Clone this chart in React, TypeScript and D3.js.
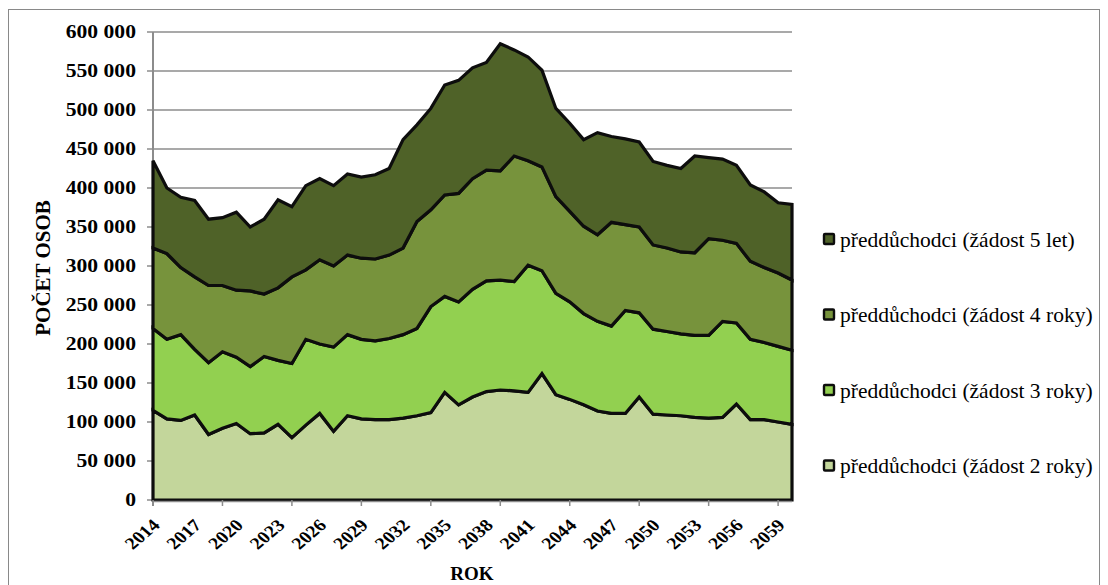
import * as d3 from "d3";
import React from "react";

// years 2014 - 2060
const years = d3.range(2014, 2061);

// values (persons)
const zadost2 = [
  115, 104, 102, 109, 84, 92, 98, 85, 86, 97, 80, 96, 111, 88, 108, 104, 103, 103, 105, 108, 112, 138, 122, 132,
  139, 141, 140, 138, 162, 135, 129, 122, 114, 111, 111, 132, 110, 109, 108, 106, 105, 106, 123, 103, 103, 100, 97,
].map((v) => v * 1000);
const zadost3 = [
  105, 102, 110, 84, 92, 98, 85, 86, 98, 82, 95, 110, 89, 108, 104, 102, 101, 104, 107, 112, 136, 123, 132, 138,
  142, 141, 140, 163, 132, 130, 125, 117, 115, 112, 132, 108, 109, 107, 105, 105, 106, 123, 104, 103, 99, 97, 95,
].map((v) => v * 1000);
const zadost4 = [
  103, 110, 86, 93, 99, 85, 86, 97, 80, 93, 111, 89, 108, 104, 102, 104, 105, 107, 111, 137, 124, 130, 139, 142,
  142, 140, 161, 134, 133, 124, 116, 112, 111, 133, 110, 110, 108, 107, 105, 106, 124, 104, 102, 100, 96, 94, 90,
].map((v) => v * 1000);
const zadost5 = [
  112, 84, 90, 98, 85, 87, 100, 82, 96, 113, 90, 108, 104, 103, 104, 104, 108, 111, 139, 124, 130, 141, 145, 142,
  138, 163, 136, 133, 124, 113, 113, 111, 131, 110, 110, 109, 107, 106, 107, 124, 104, 104, 100, 98, 97, 90, 97,
].map((v) => v * 1000);

const seriesNames = [
  "předdůchodci (žádost 2 roky)",
  "předdůchodci (žádost 3 roky)",
  "předdůchodci (žádost 4 roky)",
  "předdůchodci (žádost 5 let)",
];
const colors = ["#c3d69b", "#92d050", "#77933c", "#4f6228"];
const yTicks = d3.range(0, 600001, 50000);
const labelYears = years.filter((y) => (y - 2014) % 3 === 0);
const tickYears = years.filter((y) => (y - 2014) % 5 === 0);

const W = 1108;
const H = 585;
const left = 153;
const right = 792;
const top = 32;
const bottom = 500;
const font = "'Liberation Serif', 'Times New Roman', serif";
const stretch = 1.17; // axis labels in the picture are a little wider than plain Times

export default function App() {
  const rows = years.map((year, i) => ({
    year,
    s0: zadost2[i],
    s1: zadost3[i],
    s2: zadost4[i],
    s3: zadost5[i],
  }));
  const stacked = d3.stack<any>().keys(["s0", "s1", "s2", "s3"])(rows);

  const x = d3.scaleLinear().domain([2014, 2060]).range([left, right]);
  const y = d3.scaleLinear().domain([0, 600000]).range([bottom, top]);

  const area = d3
    .area<any>()
    .x((d) => x(d.data.year))
    .y0((d) => y(d[0]))
    .y1((d) => y(d[1]));

  const fmt = (v: number) => d3.format(",")(v).replace(/,/g, " ");

  // legend top-down: 5 let first
  const legendOrder = [3, 2, 1, 0];

  return (
    <svg width={W} height={H} style={{ position: "absolute", left: 0, top: 0, background: "#fff" }}>
      <rect x={8.5} y={9.5} width={1091} height={600} fill="#fff" stroke="#898989" strokeWidth={1} />

      {/* gridlines */}
      {yTicks.map((t) => (
        <line key={t} x1={left - 6} x2={right} y1={y(t)} y2={y(t)} stroke="#8c8c8c" strokeWidth={1.3} />
      ))}

      {/* y axis */}
      <line x1={left} x2={left} y1={top} y2={bottom + 6} stroke="#8c8c8c" strokeWidth={2} />
      {yTicks.map((t) => (
        <text
          key={t}
          transform={`translate(136,${y(t)}) scale(${stretch},1)`}
          dy="0.35em"
          textAnchor="end"
          fontFamily={font}
          fontWeight="bold"
          fontSize={18.5}
          fill="#000"
        >
          {fmt(t)}
        </text>
      ))}

      {/* stacked areas */}
      {stacked.map((s, i) => (
        <path key={i} d={area(s) || ""} fill={colors[i]} stroke="#0d0d0d" strokeWidth={3.2} strokeLinejoin="miter" />
      ))}

      {/* x axis */}
      <line x1={left} x2={right} y1={bottom + 1.5} y2={bottom + 1.5} stroke="#8c8c8c" strokeWidth={1.5} />
      {tickYears.map((yr) => (
        <line key={yr} x1={x(yr)} x2={x(yr)} y1={bottom} y2={bottom + 6} stroke="#8c8c8c" strokeWidth={1.5} />
      ))}
      {labelYears.map((yr) => (
        <text
          key={yr}
          transform={`translate(${x(yr) + 3},${bottom + 22}) scale(${stretch},1) rotate(-45)`}
          textAnchor="end"
          dy="0.35em"
          fontFamily={font}
          fontWeight="bold"
          fontSize={17}
          fill="#000"
        >
          {yr}
        </text>
      ))}

      <text x={472} y={580} textAnchor="middle" fontFamily={font} fontWeight="bold" fontSize={19}>
        ROK
      </text>
      <text
        transform={`translate(50,268) rotate(-90)`}
        textAnchor="middle"
        fontFamily={font}
        fontWeight="bold"
        fontSize={21}
      >
        POČET OSOB
      </text>

      {/* legend */}
      {legendOrder.map((si, k) => {
        const ly = 239 + k * 75.5;
        return (
          <g key={si}>
            <rect x={824} y={ly - 5} width={10} height={10} fill={colors[si]} stroke="#0d0d0d" strokeWidth={2.4} rx={1} />
            <text x={840} y={ly} dy="0.35em" fontFamily={font} fontSize={21.5} fill="#000">
              {seriesNames[si]}
            </text>
          </g>
        );
      })}
    </svg>
  );
}
